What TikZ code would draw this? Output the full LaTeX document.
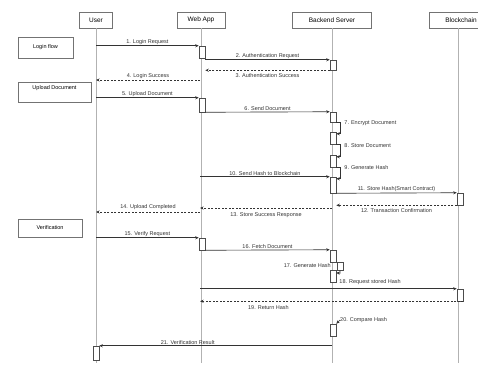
\documentclass[tikz,border=0pt]{standalone}
\usepackage{fontspec}
\setmainfont{Liberation Sans}
\usetikzlibrary{calc,arrows.meta}
\begin{document}
\begin{tikzpicture}[x=1pt,y=-1pt,
 head/.style={draw=black!55, fill=white, line width=0.5pt, font=\fontsize{6.5}{7}\selectfont, minimum height=16pt, inner sep=1pt},
 frame/.style={draw=black!55, line width=0.5pt, font=\fontsize{5.5}{6}\selectfont, inner sep=1pt},
 life/.style={draw=black!30, line width=0.5pt},
 act/.style={draw=black!70, fill=white, line width=0.5pt, minimum width=6pt, inner sep=0pt},
 msg/.style={draw=black!80, line width=0.65pt, -{Stealth[length=3.5pt,width=3pt]}},
 ret/.style={msg, dash pattern=on 2pt off 1.5pt},
 lbl/.style={font=\fontsize{5.5}{6}\selectfont, text=black!80, inner sep=1pt},
]
\useasboundingbox (0,0) rectangle (478,365);
\fill[white] (0,0) rectangle (478,365);

% headers
\node[head, minimum width=33pt] (hU) at (96,20) {User};
\node[head, minimum width=48pt] (hW) at (201,20) {Web App};
\node[head, minimum width=79pt] (hB) at (332,20) {Backend Server};
\node[head, minimum width=64pt] (hC) at (461,20) {Blockchain};

% lifelines
\coordinate (Ux) at (96,0);
\coordinate (Wx) at (200,0);
\coordinate (Bx) at (332,0);
\coordinate (Cx) at (458,0);
\coordinate (Ue) at (96,363);
\coordinate (We) at (201,363);
\coordinate (Be) at (332,363);
\coordinate (Ce) at (458,363);
\draw[life] (hU.south) -- (Ue);
\draw[life] (hW.south) -- (We);
\draw[life] (hB.south) -- (Be);
\draw[life] (Cx |- hC.south) -- (Ce);

% frames
\node[frame, minimum width=55pt, minimum height=21pt] (f1) at (45.5,47.5) {Login flow};
\node[frame, minimum width=73pt, minimum height=20pt, text depth=9pt] (f2) at (54.5,92) {Upload Document};
\node[frame, minimum width=64pt, minimum height=18pt] (f3) at (50,228) {Verification};

% activation boxes
\node[act, minimum height=12pt] (a1) at (202,52) {};
\node[act, minimum height=10pt] (a2) at (333,65) {};
\node[act, minimum height=14pt] (a3) at (202,105) {};
\node[act, minimum height=10pt] (a4) at (333,117) {};
\node[act, minimum height=12pt] (a5) at (333,138) {};
\node[act, minimum height=12pt] (a6) at (333,161) {};
\node[act, minimum height=16pt] (a7) at (333,185) {};
\node[act, minimum height=12pt] (a8) at (460,199) {};
\node[act, minimum height=12pt] (a9) at (202,244) {};
\node[act, minimum height=12pt] (a10) at (333,256) {};
\node[act, minimum height=8pt] (a11) at (340,266) {};
\node[act, minimum height=12pt] (a12) at (333,276) {};
\node[act, minimum height=12pt] (a13) at (460,295) {};
\node[act, minimum height=12pt] (a14) at (333,330) {};
\node[act, minimum height=14pt] (a15) at (96,353) {};

% login flow
\draw[msg] (Ux |- a1.north) -- (a1.north west) node[lbl,above,midway]{1. Login Request};
\draw[msg] (a1.east |- a2.north) -- (a2.north west) node[lbl,above,midway]{2. Authentication Request};
\draw[ret] (a2.south west) -- (a1.east |- a2.south) node[lbl,below=1.5pt,midway]{3. Authentication Success};
\coordinate (r4) at (200,80);
\draw[ret] (r4) -- (Ux |- r4) node[lbl,above,midway]{4. Login Success};

% upload
\draw[msg] (Ux |- a3.north) -- (a3.north west) node[lbl,above,midway]{5. Upload Document};
\draw[msg] (a3.south east) -- (a4.north west) node[lbl,above,midway]{6. Send Document};
\draw[msg] (a4.south east) -- ++(4,0) |- ($(a5.north east)+(0,2)$);
\node[lbl, anchor=west] (l7) at ($(a4.south east)+(7,1)$) {7. Encrypt Document};
\draw[msg] (a5.south east) -- ++(4,0) |- ($(a6.north east)+(0,2)$);
\node[lbl, anchor=west] (l8) at ($(a5.south east)+(7,1)$) {8. Store Document};
\draw[msg] (a6.south east) -- ++(4,0) |- ($(a7.north east)+(0,2)$);
\node[lbl, anchor=west] (l9) at ($(a6.south east)+(7,0)$) {9. Generate Hash};
\draw[msg] (Wx |- a7.north) -- (a7.north west) node[lbl,above,midway]{10. Send Hash to Blockchain};
\draw[msg] (a7.south east) -- (a8.north west) node[lbl,above,midway]{11. Store Hash(Smart Contract)};
\draw[ret] (a8.south west) -- (a7.east |- a8.south) node[lbl,below=1.5pt,midway]{12. Transaction Confirmation};
\coordinate (r13) at (332,208);
\draw[ret] (r13) -- (Wx |- r13) node[lbl,below=3pt,midway]{13. Store Success Response};
\coordinate (r14) at (200,212);
\draw[ret] (r14) -- (Ux |- r14) node[lbl,above=1.5pt,midway]{14. Upload Completed};

% verification
\draw[msg] (Ux |- a9.north) -- (a9.north west) node[lbl,above,midway]{15. Verify Request};
\draw[msg] (a9.south east) -- (a10.north west) node[lbl,above,midway]{16. Fetch Document};
\node[lbl, anchor=east] (l17) at (Bx |- a11.west) {17. Generate Hash};
\draw[msg] (a11.south) -- ++(0,3) -- ($(a12.north east)+(0,3)$);
\node[lbl, anchor=west] (l18) at ($(a12.south east)+(2,0)$) {18. Request stored Hash};
\draw[msg] (Wx |- a13.north) -- (a13.north west);
\draw[ret] (a13.south east) -- (Wx |- a13.south) node[lbl,below=3pt,pos=0.74]{19. Return Hash};
\coordinate (s20) at (340,320);
\draw[msg] (s20) -- (a14.north east);
\node[lbl, anchor=west] (l20) at (339,320) {20. Compare Hash};
\draw[msg] (Bx |- a15.north) -- (a15.north east) node[lbl,above,pos=0.62]{21. Verification Result};
\end{tikzpicture}
\end{document}
